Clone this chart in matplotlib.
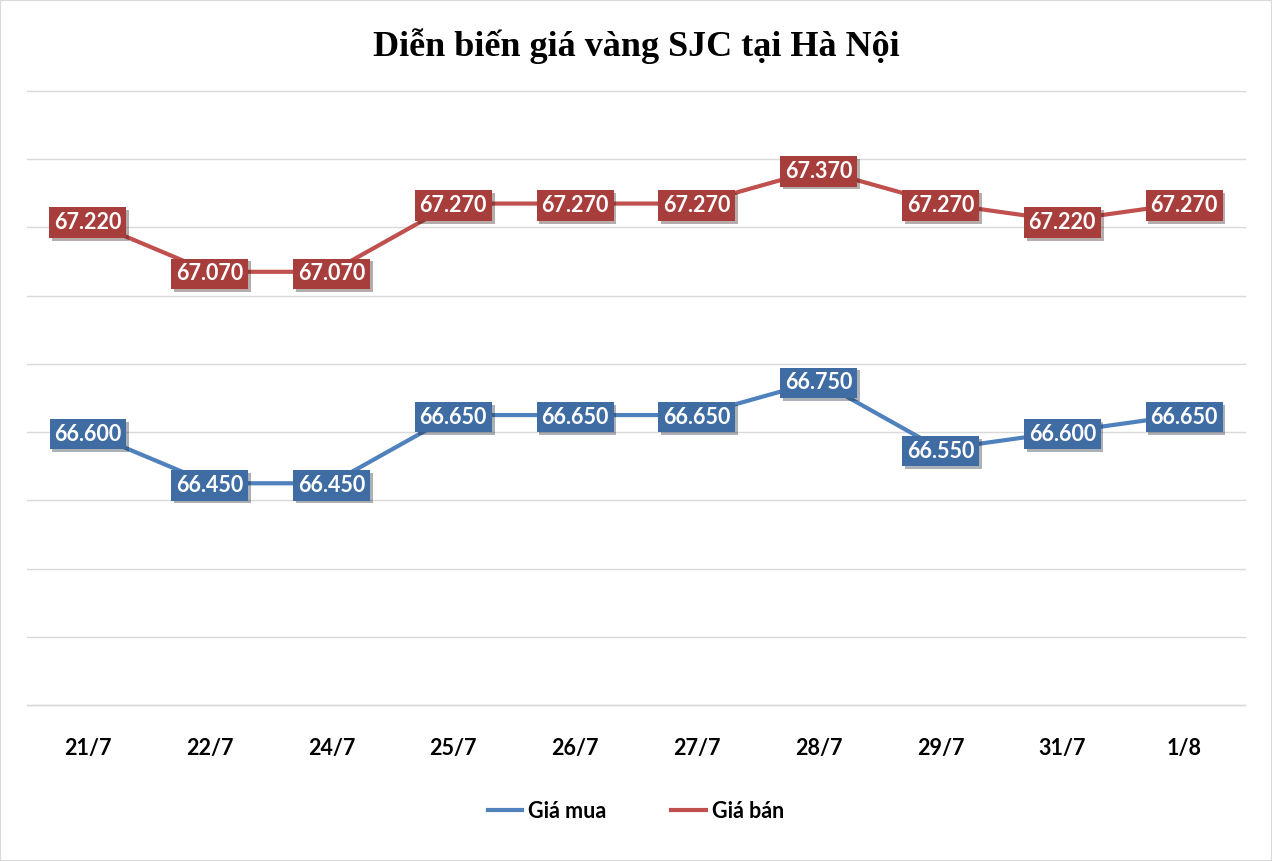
import matplotlib.pyplot as plt
import matplotlib.patheffects as pe
from matplotlib.patches import Rectangle

# data
days = ['21/7', '22/7', '24/7', '25/7', '26/7', '27/7', '28/7', '29/7', '31/7', '1/8']
gia_mua = [66.600, 66.450, 66.450, 66.650, 66.650, 66.650, 66.750, 66.550, 66.600, 66.650]
gia_ban = [67.220, 67.070, 67.070, 67.270, 67.270, 67.270, 67.370, 67.270, 67.220, 67.270]

blue = '#4F81BD'
red = '#C0504D'
blue_box = '#3E6CA3'
red_box = '#A83E3C'

fig = plt.figure(figsize=(12.72, 8.61), dpi=100)
ax = fig.add_axes([27 / 1272, 1 - 705 / 861, 1218 / 1272, 614 / 861])

x = list(range(len(days)))
ax.plot(x, gia_mua, color=blue, lw=3, label='Giá mua', zorder=3)
ax.plot(x, gia_ban, color=red, lw=3, label='Giá bán', zorder=3)

# value boxes
for xs, ys, box in [(x, gia_mua, blue_box), (x, gia_ban, red_box)]:
    for xi, yi in zip(xs, ys):
        lbl = f'{yi:.3f}'
        t = ax.text(xi, yi, lbl, ha='center', va='center_baseline', color='white',
                    fontsize=15.5, fontweight='bold', family='Lato', zorder=5,
                    bbox=dict(boxstyle='square,pad=0.22', fc=box, ec='none'))
        t.get_bbox_patch().set_path_effects([
            pe.SimplePatchShadow(offset=(2, -2), alpha=0.35), pe.Normal()])

ax.set_xlim(-0.5, len(days) - 0.5)
ax.set_ylim(65.8, 67.6)
ax.set_yticks([65.8 + 0.2 * i for i in range(10)])
ax.yaxis.grid(True, color='#D9D9D9', lw=1, clip_on=False)
ax.set_axisbelow(True)
ax.tick_params(axis='y', left=False, labelleft=False)
ax.tick_params(axis='x', length=0, pad=24)
ax.set_xticks(x)
ax.set_xticklabels(days, fontsize=15.5, fontweight='bold', family='Lato')
for s in ax.spines.values():
    s.set_visible(False)
ax.axhline(65.8, color='#D9D9D9', lw=1, clip_on=False, zorder=0)

fig.text(0.5, 1 - 46 / 861, 'Diễn biến giá vàng SJC tại Hà Nội', ha='center', va='center',
         fontsize=26, fontweight='bold', family='Liberation Serif')

leg = fig.legend(loc='center', bbox_to_anchor=(0.5, 1 - 811 / 861), ncol=2, frameon=False,
                 prop={'family': 'Lato', 'weight': 'bold', 'size': 15.5},
                 handlelength=1.6, handletextpad=0.3, columnspacing=3)

# outer border
fig.patches.append(Rectangle((0, 0), 1, 1, transform=fig.transFigure, fill=False,
                             ec='#D9D9D9', lw=1.5))

fig.savefig('out.png', dpi=100)
